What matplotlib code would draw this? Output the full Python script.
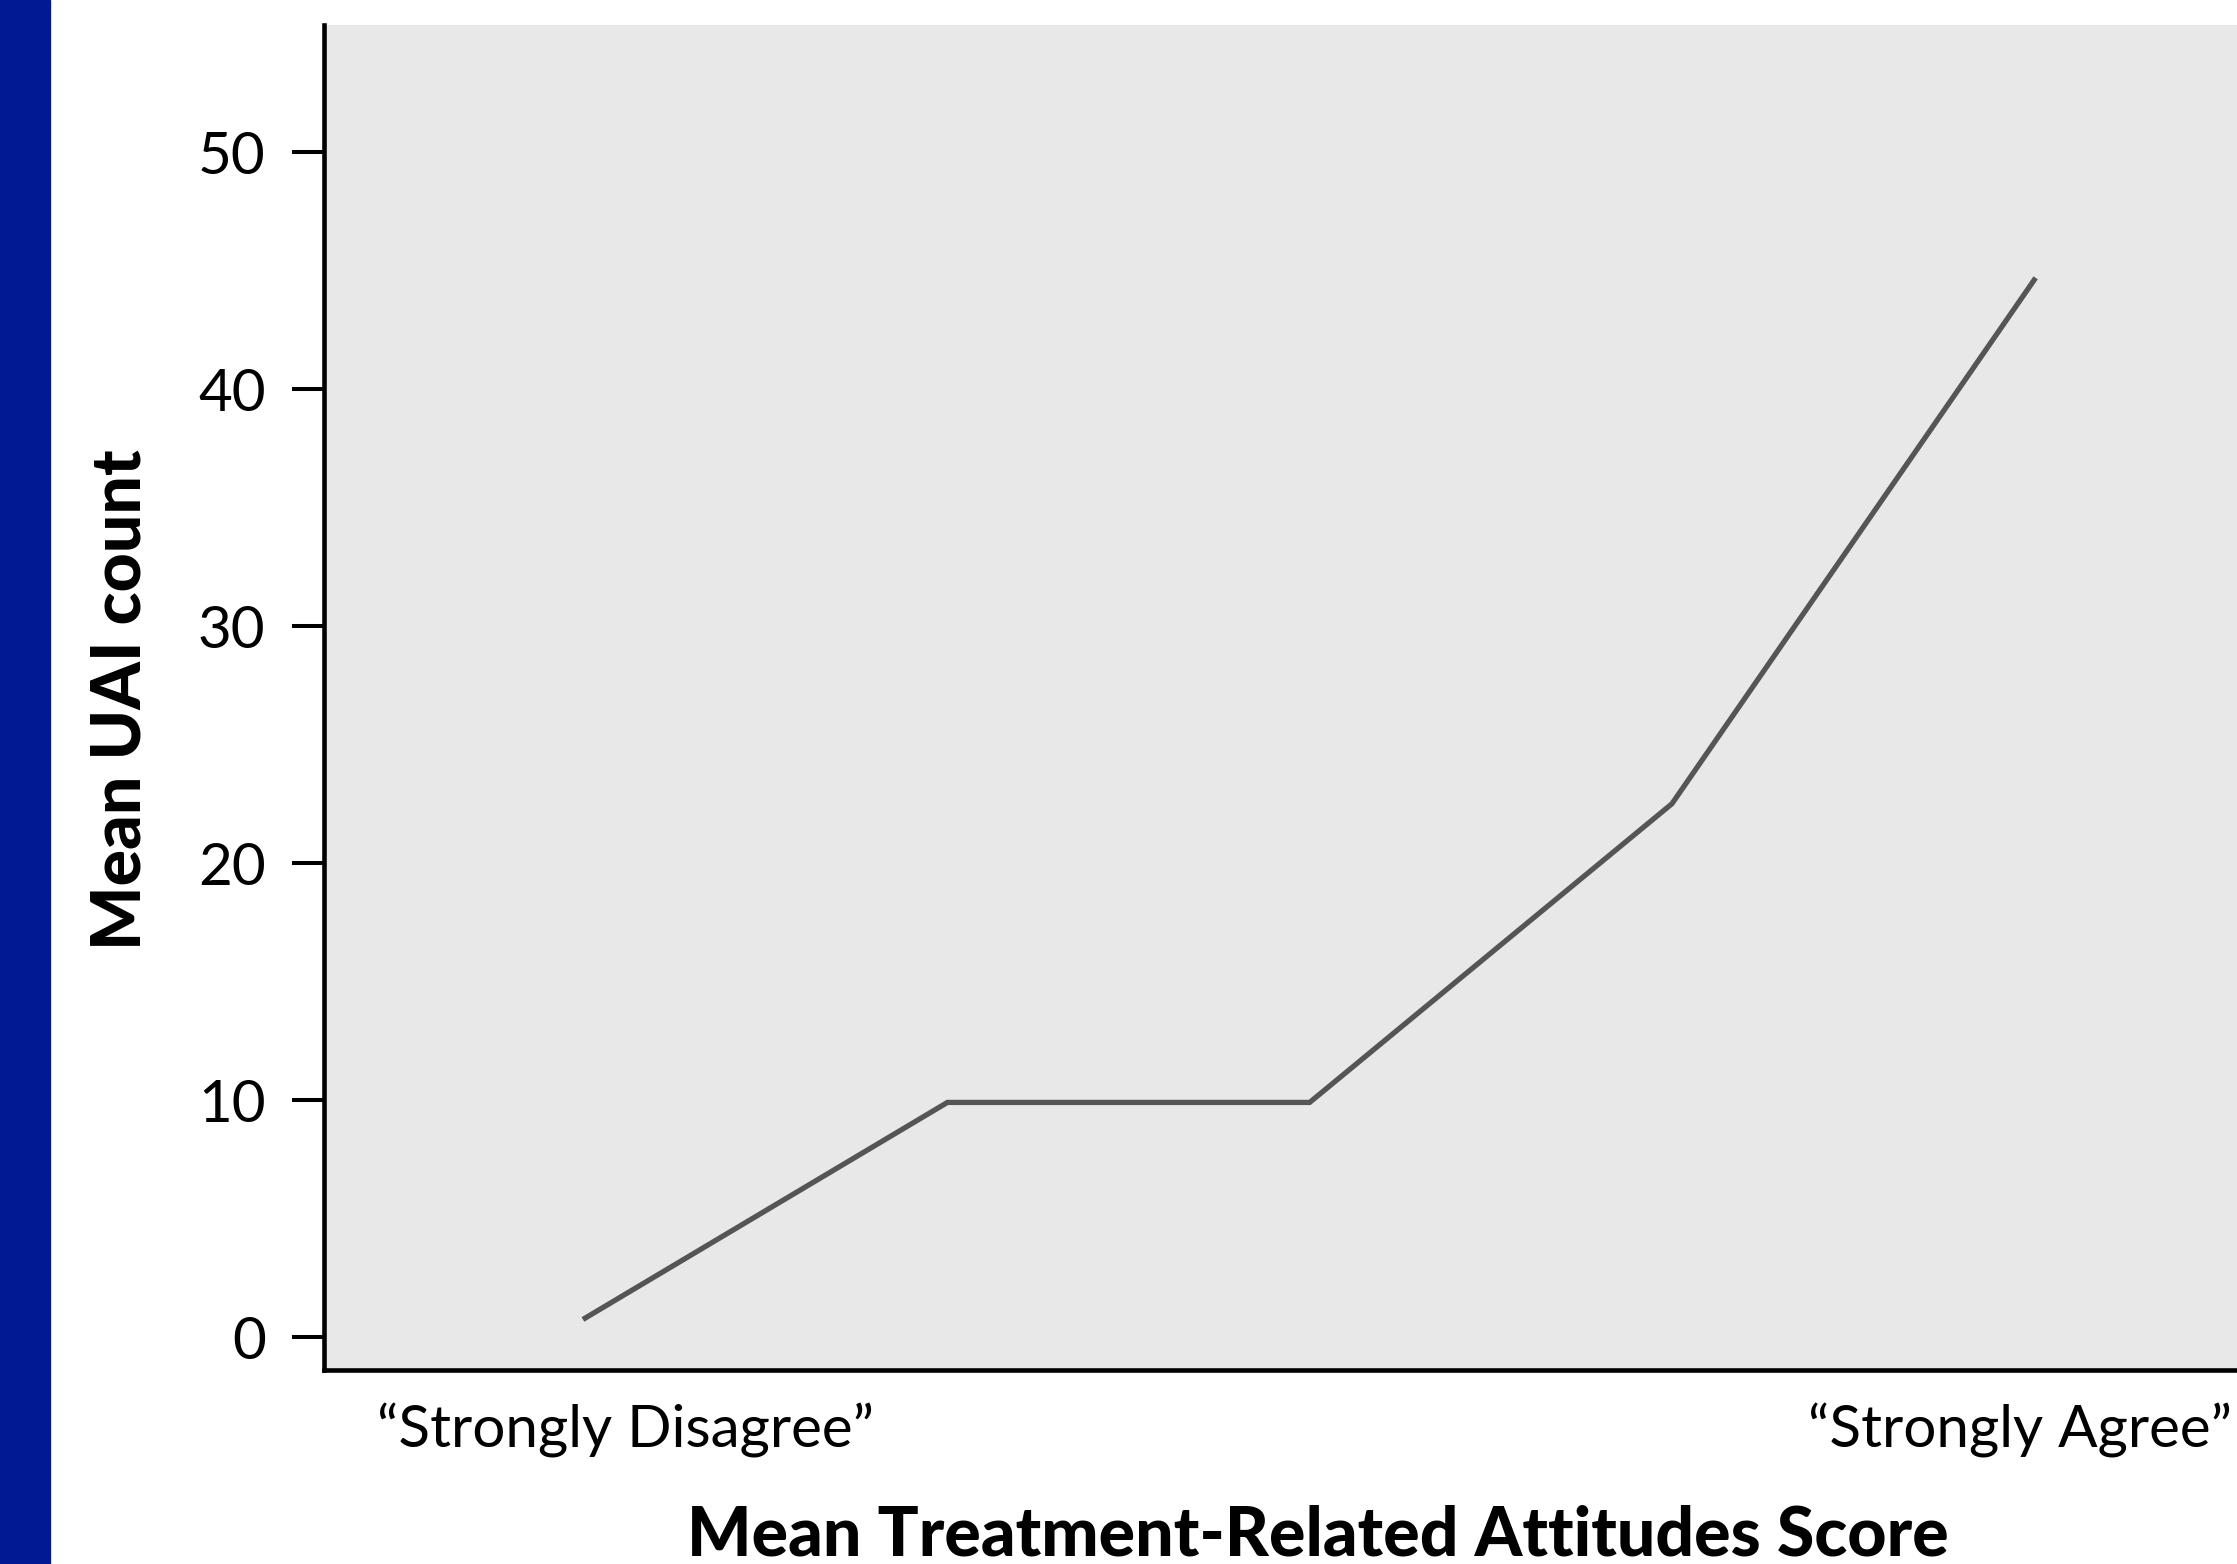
import matplotlib
matplotlib.use("Agg")
import matplotlib.pyplot as plt
from matplotlib.patches import Rectangle
from matplotlib.ticker import FixedLocator

plt.rcParams['font.family'] = ['Lato', 'DejaVu Sans']

# data
attitude_pos = [1, 2, 3, 4, 5]
mean_uai = [0.8, 9.9, 9.9, 22.5, 44.6]
y_ticks = [0, 10, 20, 30, 40, 50]
end_label_pos = [1.11, 4.96]
end_labels = ['\u201cStrongly Disagree\u201d', '\u201cStrongly Agree\u201d']

W, H = 2237, 1564
fig = plt.figure(figsize=(W / 100, H / 100), dpi=100)
ax = fig.add_axes([324 / W, 194 / H, 1 - 324 / W, (1370 - 25) / H])

# blue bar on the left edge of the slide
fig.add_artist(Rectangle((0, 0), 50 / W, 1, transform=fig.transFigure,
                         color='#001a94', zorder=0))

ax.set_facecolor('#e8e8e8')
ax.plot(attitude_pos, mean_uai, color='#555555', lw=3.8, solid_joinstyle='miter')

ax.set_xlim(0.279, 5.56)
ax.set_ylim(-1.39, 55.36)

for s in ['top', 'right']:
    ax.spines[s].set_visible(False)
for s in ['left', 'bottom']:
    ax.spines[s].set_linewidth(3.3)
    ax.spines[s].set_color('black')

ax.set_yticks(y_ticks)
ax.set_yticklabels([str(v) for v in y_ticks], fontsize=42)
ax.yaxis.set_minor_locator(FixedLocator(y_ticks))
ax.tick_params(axis='y', which='major', direction='out', length=23, width=2.9, pad=19)
ax.tick_params(axis='y', which='minor', direction='in', length=32, width=2.9)

ax.set_xticks(end_label_pos)
ax.set_xticklabels(end_labels, fontsize=42)
ax.tick_params(axis='x', which='both', length=0, pad=24)

fig.text(121 / W, (H - 700) / H, 'Mean UAI count', rotation=90, fontsize=49,
         fontweight='black', ha='center', va='center')
fig.text(1318 / W, 9 / H, 'Mean Treatment-Related Attitudes Score', fontsize=49,
         fontweight='black', ha='center', va='baseline')

fig.savefig('out.png', dpi=100)
